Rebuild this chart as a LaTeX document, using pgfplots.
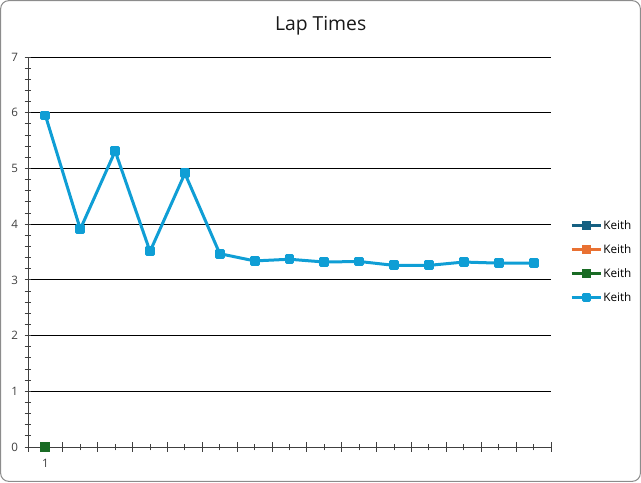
\documentclass[border=0pt]{standalone}
\usepackage{pgfplots}
\pgfplotsset{compat=1.18}
\usepackage{fontspec}
\setmainfont{Open Sans}
\definecolor{c1}{HTML}{156082}
\definecolor{c2}{HTML}{E97132}
\definecolor{c3}{HTML}{196B24}
\definecolor{c4}{HTML}{0F9ED5}
\definecolor{tl}{HTML}{404040}
\definecolor{ax}{HTML}{404040}
\begin{document}
\begin{tikzpicture}[x=1pt,y=1pt]
\useasboundingbox (0,0) rectangle (480.75,361.5);
\draw[rounded corners=6pt, color=black!45, line width=0.75pt] (0.5,0.5) rectangle (480.25,361);
\node[font=\fontsize{14.5}{16}\selectfont, text=black!90] at (240.5,342.5) {Lap Times};
\begin{axis}[
  at={(21pt,26.25pt)}, anchor=south west,
  scale only axis, width=392.25pt, height=292.5pt,
  xmin=0.5, xmax=15.5, ymin=0, ymax=7,
  axis x line=bottom, axis y line=left,
  axis line style={-, ax, line width=0.75pt},
  clip=false,
  /pgf/number format/assume math mode=true,
  ytick={0,...,7},
  minor y tick num=4,
  ymajorgrids=true,
  major grid style={black, line width=0.75pt},
  ytick style={ax, line width=0.75pt},
  xtick style={ax, line width=0.75pt},
  tick align=center,
  major tick length=5pt, minor tick length=5pt,
  xtick={1,...,15},
  xticklabels={1,,,,,,,,,,,,,,},
  extra x ticks={0.5,1.5,...,15.5},
  extra x tick labels={},
  extra x tick style={major tick length=7pt, grid=none},
  tick label style={font=\fontsize{8.7}{10}\selectfont, text=tl},
  yticklabel style={xshift=-1.5pt},
  xticklabel style={yshift=-3.5pt},
  legend style={at={(1.036,0.4757)}, anchor=west, draw=none, fill=none,
    font=\fontsize{8.8}{10}\selectfont, row sep=8.5pt, inner sep=0pt,
    nodes={inner sep=0.5pt, text height=7pt, text depth=1.5pt}},
  legend cell align=left,
  legend image code/.code={
    \draw[#1, mark=none, line width=2.4pt] (0pt,0pt) -- (22pt,0pt);
    \draw[#1, only marks, mark size=2.1pt] plot coordinates {(11pt,0pt)};},
]
\addplot[c1, line width=2.25pt, mark=square*, mark size=2.6pt] coordinates {(1,0)};
\addlegendentry{Keith}
\addplot[c2, line width=2.25pt, mark=square*, mark size=2.6pt] coordinates {(1,0)};
\addlegendentry{Keith}
\addplot[c3, line width=2.25pt, mark=square*, mark size=2.6pt] coordinates {(1,0)};
\addlegendentry{Keith}
\addplot[c4, line width=2.25pt, line join=round, mark=square*, mark size=2.6pt, mark options={solid}] coordinates {
(1,5.95) (2,3.91) (3,5.31) (4,3.51) (5,4.91) (6,3.47) (7,3.34) (8,3.37)
(9,3.32) (10,3.33) (11,3.26) (12,3.26) (13,3.32) (14,3.30) (15,3.30)};
\addlegendentry{Keith}
\end{axis}
\end{tikzpicture}
\end{document}
